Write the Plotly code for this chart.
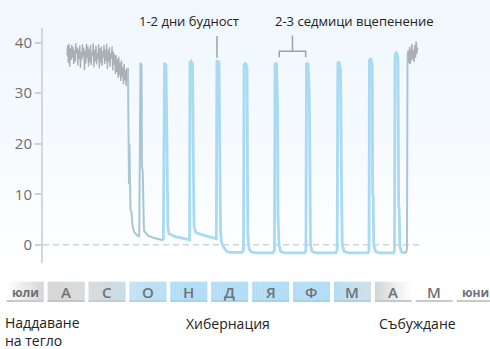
import plotly.graph_objects as go

# ---------------- data (days since 1 July, body temperature °C) ----------------
gray_days = [46.3, 46.8, 47.3, 47.8, 48.3, 48.8, 49.3, 49.8, 50.3, 50.8, 51.3, 51.8, 52.3, 52.8,
             53.3, 53.8, 54.3, 54.8, 55.3, 55.8, 56.3, 56.8, 57.3, 57.8, 58.3, 58.8, 59.3, 59.8,
             60.3, 60.8, 61.3, 61.8, 62.3, 62.8, 63.3, 63.8, 64.3, 64.8, 65.3, 65.8, 66.3, 66.8,
             67.3, 67.8, 68.3, 68.8, 69.3, 69.8, 70.3, 70.8, 71.3, 71.8, 72.3, 72.8, 73.3, 73.8,
             74.3, 74.8, 75.3, 75.8, 76.3, 76.8, 77.3, 77.8, 78.3, 78.8, 79.3, 79.8, 80.3, 80.8,
             81.3, 81.8, 82.3, 82.8, 83.3, 83.8, 84.3, 84.8, 85.3, 85.8, 86.3, 86.8, 87.3, 87.8,
             88.3, 88.8, 89.3, 89.8, 90.3, 90.8, 91.3, 91.6]
gray_temp = [37.5, 39.5, 36.0, 39.8, 35.2, 38.9, 36.5, 39.6, 37.0, 39.2, 35.8, 38.5, 36.2, 39.9,
             37.8, 39.1, 35.5, 38.7, 36.8, 39.5, 35.0, 38.2, 36.6, 39.7, 37.2, 39.0, 34.6, 38.4,
             35.9, 39.8, 36.9, 39.3, 35.3, 38.8, 36.1, 39.6, 35.6, 38.1, 37.4, 39.9, 35.1, 38.6,
             36.3, 39.4, 35.7, 38.0, 36.7, 39.7, 34.9, 38.9, 36.0, 39.2, 35.4, 38.3, 37.1, 39.5,
             35.8, 38.7, 36.4, 39.8, 34.8, 38.5, 36.2, 39.1, 35.2, 37.9, 36.9, 39.3, 34.5, 38.2,
             35.6, 37.6, 33.8, 37.5, 34.2, 36.8, 33.0, 37.2, 33.5, 36.0, 32.4, 36.5, 33.2, 35.2,
             31.8, 35.8, 32.5, 34.6, 31.5, 35.0, 32.8, 35.0]

trans_days = [91.6, 91.9, 92.2, 92.4, 92.7, 93.0, 93.3, 93.5, 94.2, 95.0, 96.1, 98.3, 100.0,
              100.4, 100.9, 101.7, 102.0, 102.6, 102.9, 103.5, 106.5, 111.7, 117.9]
trans_temp = [35.0, 14.0, 22.0, 12.0, 20.0, 15.0, 16.5, 7.0, 6.5, 3.8, 2.6, 1.9, 1.6,
              35.4, 36.0, 35.6, 15.5, 14.5, 5.0, 2.8, 1.8, 1.3, 0.9]

blue_days = [117.9, 118.3, 118.8, 119.9, 120.4, 120.9, 121.3, 122.1, 126.6, 131.8, 137.4,
             137.7, 138.5, 139.6, 140.0, 140.5, 140.8, 142.2, 148.9, 157.3,
             157.7, 158.2, 159.3, 160.4, 161.1, 163.0, 165.2, 167.5, 176.4, 177.5,
             177.9, 179.0, 180.1, 180.7, 181.6, 183.1, 186.1, 199.4, 200.5,
             200.9, 202.0, 202.8, 203.1, 203.9, 205.0, 207.6, 223.2, 223.9,
             224.3, 225.4, 226.4, 226.8, 227.3, 228.4, 231.4, 246.2, 247.1,
             247.6, 248.5, 249.6, 249.9, 250.4, 250.9, 252.2, 255.2, 270.0, 270.8,
             271.1, 272.1, 273.2, 273.5, 273.9, 274.3, 275.6, 278.2, 289.0, 289.7,
             290.1, 291.2, 292.3, 292.8, 293.2, 293.7, 294.6, 296.0]
blue_temp = [0.9, 35.6, 36.0, 35.5, 20.0, 19.0, 3.5, 2.2, 1.6, 1.3, 1.0,
             36.0, 36.3, 35.8, 9.0, 8.0, 3.5, 2.4, 1.8, 1.2,
             36.2, 36.5, 36.0, 3.0, 0.5, -0.6, -1.3, -1.5, -1.5, -1.0,
             35.6, 36.0, 35.0, 2.0, -0.8, -1.4, -1.6, -1.6, -1.0,
             35.8, 36.0, 28.0, 6.0, 0.0, -1.3, -1.6, -1.6, -1.0,
             35.8, 36.0, 30.0, 6.0, 0.0, -1.3, -1.6, -1.6, -1.0,
             36.0, 36.2, 34.5, 11.0, 10.0, 0.0, -1.3, -1.6, -1.6, -1.0,
             36.5, 36.9, 35.5, 10.0, 9.5, 0.0, -1.3, -1.6, -1.6, -1.0,
             37.5, 38.2, 37.0, 8.0, 7.0, 0.0, -1.3, -1.6]

rewarm_days = [296.0, 298.3, 299.0, 299.4, 300.0]
rewarm_temp = [-1.6, -1.5, -0.8, 37.5, 38.4]

end_days = [300.0, 300.5, 301.0, 301.4, 301.8, 302.4, 302.7, 303.2, 303.7, 304.2, 304.8,
            305.3, 305.8, 306.3, 306.8]
end_temp = [38.4, 36.0, 39.2, 35.8, 38.7, 36.5, 39.8, 36.8, 38.5, 36.2, 39.5,
            37.0, 40.2, 37.8, 39.0]

zero_line_end = 310.2
y_ticks = [0, 10, 20, 30, 40]

month_labels = ["юли", "А", "С", "О", "Н", "Д", "Я", "Ф", "М", "А", "М", "юни"]
phase_labels = ["Наддаване<br>на тегло", "Хибернация", "Събуждане"]
phase_days = [-1.3, 166.0, 306.5]

note_awake = "1-2 дни будност"
note_torpor = "2-3 седмици вцепенение"
awake_day = 157.8
torpor_days = [204.1, 223.7]

# ---------------- layout constants ----------------
W, H = 490, 349
ML, MR, MT, MB = 43, 0, 28, 86
PW, PH = W - ML - MR, H - MT - MB
DPM = 30.4
X0, X1 = (ML - 4.7) / 1.3454, (W - 4.7) / 1.3454
Y0, Y1 = -3.6, 42.9


def xp(d):
    return (d - X0) / (X1 - X0)


def yp(py):  # pixel row -> paper
    return (H - MB - py) / PH


def hexrgb(h):
    h = h.lstrip("#")
    return [int(h[i:i + 2], 16) for i in (0, 2, 4)]


def mix(a, b, t):
    ca, cb = hexrgb(a), hexrgb(b)
    return "rgb(%d,%d,%d)" % tuple(round(ca[i] + (cb[i] - ca[i]) * t) for i in range(3))


fig = go.Figure()

# dashed zero line
fig.add_trace(go.Scatter(x=[X0, zero_line_end], y=[0, 0], mode="lines",
                         line=dict(color="#d4d4d4", width=1.5, dash="6px,4px"),
                         hoverinfo="skip", showlegend=False))

GRAY = "#abb0b4"
TRANS = "#a8c6d6"
BLUE = "#a9daf4"
fig.add_trace(go.Scatter(x=gray_days, y=gray_temp, mode="lines",
                         line=dict(color=GRAY, width=1.4), showlegend=False))
fig.add_trace(go.Scatter(x=trans_days, y=trans_temp, mode="lines",
                         line=dict(color=TRANS, width=2), showlegend=False))
fig.add_trace(go.Scatter(x=blue_days, y=blue_temp, mode="lines",
                         line=dict(color=BLUE, width=2.8), showlegend=False))
fig.add_trace(go.Scatter(x=rewarm_days, y=rewarm_temp, mode="lines",
                         line=dict(color=TRANS, width=2), showlegend=False))
fig.add_trace(go.Scatter(x=end_days, y=end_temp, mode="lines",
                         line=dict(color=GRAY, width=1.6), showlegend=False))

shapes = []
# background vertical gradient
N = 26
top_px, bot_px = 0, 268
for i in range(N):
    a = top_px + (bot_px - top_px) * i / N
    b = top_px + (bot_px - top_px) * (i + 1) / N
    shapes.append(dict(type="rect", xref="paper", yref="paper", layer="below",
                       x0=-ML / PW, x1=1, y0=yp(b), y1=yp(a) + 0.001,
                       line=dict(width=0),
                       fillcolor=mix("#f1f8fd", "#ffffff", (i / (N - 1)) ** 1.6)))

# month boxes (colors left -> right)
box_cols = [("#ffffff", "#d3d4d5"), ("#d6d7d8", "#d8d9da"), ("#d9dadb", "#c6dce8"),
            ("#c3e1f2", "#b9dff4"), ("#b3ddf5", "#b3ddf5"), ("#b3ddf5", "#b3ddf5"),
            ("#b3ddf5", "#b3ddf5"), ("#b3ddf5", "#b3ddf5"), ("#b3ddf5", "#cfdfe8"),
            ("#d3d4d5", "#ffffff"), ("#ffffff", "#ffffff"), ("#ffffff", "#ffffff")]
line_cols = ["#c9cacb", "#c4c5c6", "#c3ccd2", "#aed3e8", "#a6d2ec", "#a6d2ec", "#a6d2ec",
             "#a6d2ec", "#b0cfdf", "#c8c9ca", "#c8c9ca", "#c8c9ca"]
by0, by1 = yp(301.7), yp(281.7)
annotations = []
S = 12
for i, lab in enumerate(month_labels):
    d0 = i * DPM + 1.5
    d1 = (i + 1) * DPM - 1.5
    for k in range(S):
        s0 = d0 + (d1 - d0) * k / S
        s1 = d0 + (d1 - d0) * (k + 1) / S
        shapes.append(dict(type="rect", xref="paper", yref="paper", layer="below",
                           x0=xp(s0), x1=xp(s1) + 0.0005, y0=by0, y1=by1, line=dict(width=0),
                           fillcolor=mix(box_cols[i][0], box_cols[i][1], (k + 0.5) / S)))
    shapes.append(dict(type="line", xref="paper", yref="paper", layer="below",
                       x0=xp(d0), x1=xp(d1), y0=by0 + 0.003, y1=by0 + 0.003,
                       line=dict(color=line_cols[i], width=2)))
    small = len(lab) > 1
    annotations.append(dict(xref="paper", yref="paper", x=xp((d0 + d1) / 2), y=yp(292),
                            text=lab, showarrow=False, xanchor="center", yanchor="middle",
                            font=dict(family="Open Sans", size=12 if small else 15,
                                      color="#6d7277", weight="bold" if small else 600)))

# phase labels
annotations.append(dict(xref="paper", yref="paper", x=xp(phase_days[0]), y=yp(311),
                        text=phase_labels[0], showarrow=False, xanchor="left", yanchor="top",
                        align="left", font=dict(family="Open Sans", size=14, color="#222")))
for lab, d in zip(phase_labels[1:], phase_days[1:]):
    annotations.append(dict(xref="paper", yref="paper", x=xp(d), y=yp(312),
                            text=lab, showarrow=False, xanchor="center", yanchor="top",
                            font=dict(family="Open Sans", size=14, color="#222")))

# top notes
annotations.append(dict(xref="paper", yref="paper", x=xp((189 - 4.7) / 1.3454), y=yp(21),
                        text=note_awake, showarrow=False, xanchor="center", yanchor="middle",
                        font=dict(family="Open Sans", size=13, color="#222")))
annotations.append(dict(xref="paper", yref="paper", x=xp((354 - 4.7) / 1.3454), y=yp(21),
                        text=note_torpor, showarrow=False, xanchor="center", yanchor="middle",
                        font=dict(family="Open Sans", size=13, color="#222")))

NC = "#a0a0a0"
shapes.append(dict(type="line", xref="x", yref="y", x0=awake_day, x1=awake_day,
                   y0=37.0, y1=41.3, line=dict(color=NC, width=1.5)))
mid = (torpor_days[0] + torpor_days[1]) / 2
shapes.append(dict(type="line", xref="x", yref="y", x0=mid, x1=mid, y0=38.3, y1=41.4,
                   line=dict(color=NC, width=1.5)))
shapes.append(dict(type="path", xref="x", yref="y",
                   path="M %f,%f L %f,%f L %f,%f L %f,%f" % (
                       torpor_days[0], 37.1, torpor_days[0], 38.3,
                       torpor_days[1], 38.3, torpor_days[1], 37.1),
                   line=dict(color=NC, width=1.5)))

fig.update_layout(
    width=W, height=H, margin=dict(l=ML, r=MR, t=MT, b=MB, pad=0),
    paper_bgcolor="#ffffff", plot_bgcolor="rgba(0,0,0,0)",
    showlegend=False, shapes=shapes, annotations=annotations,
    xaxis=dict(range=[X0, X1], visible=False, fixedrange=True),
    yaxis=dict(range=[Y0, Y1], tickvals=y_ticks, showgrid=False, zeroline=False,
               showline=True, linecolor="#d6d6d6", linewidth=2,
               ticks="outside", ticklen=6, tickwidth=1.5, tickcolor="#d0d0d0",
               tickfont=dict(family="Open Sans", size=15, color="#707070"),
               fixedrange=True),
    font=dict(family="Open Sans"),
)

fig.write_html("out.html", config={"displayModeBar": False},
               post_script="document.body.style.margin='0';document.body.style.overflow='hidden';")
